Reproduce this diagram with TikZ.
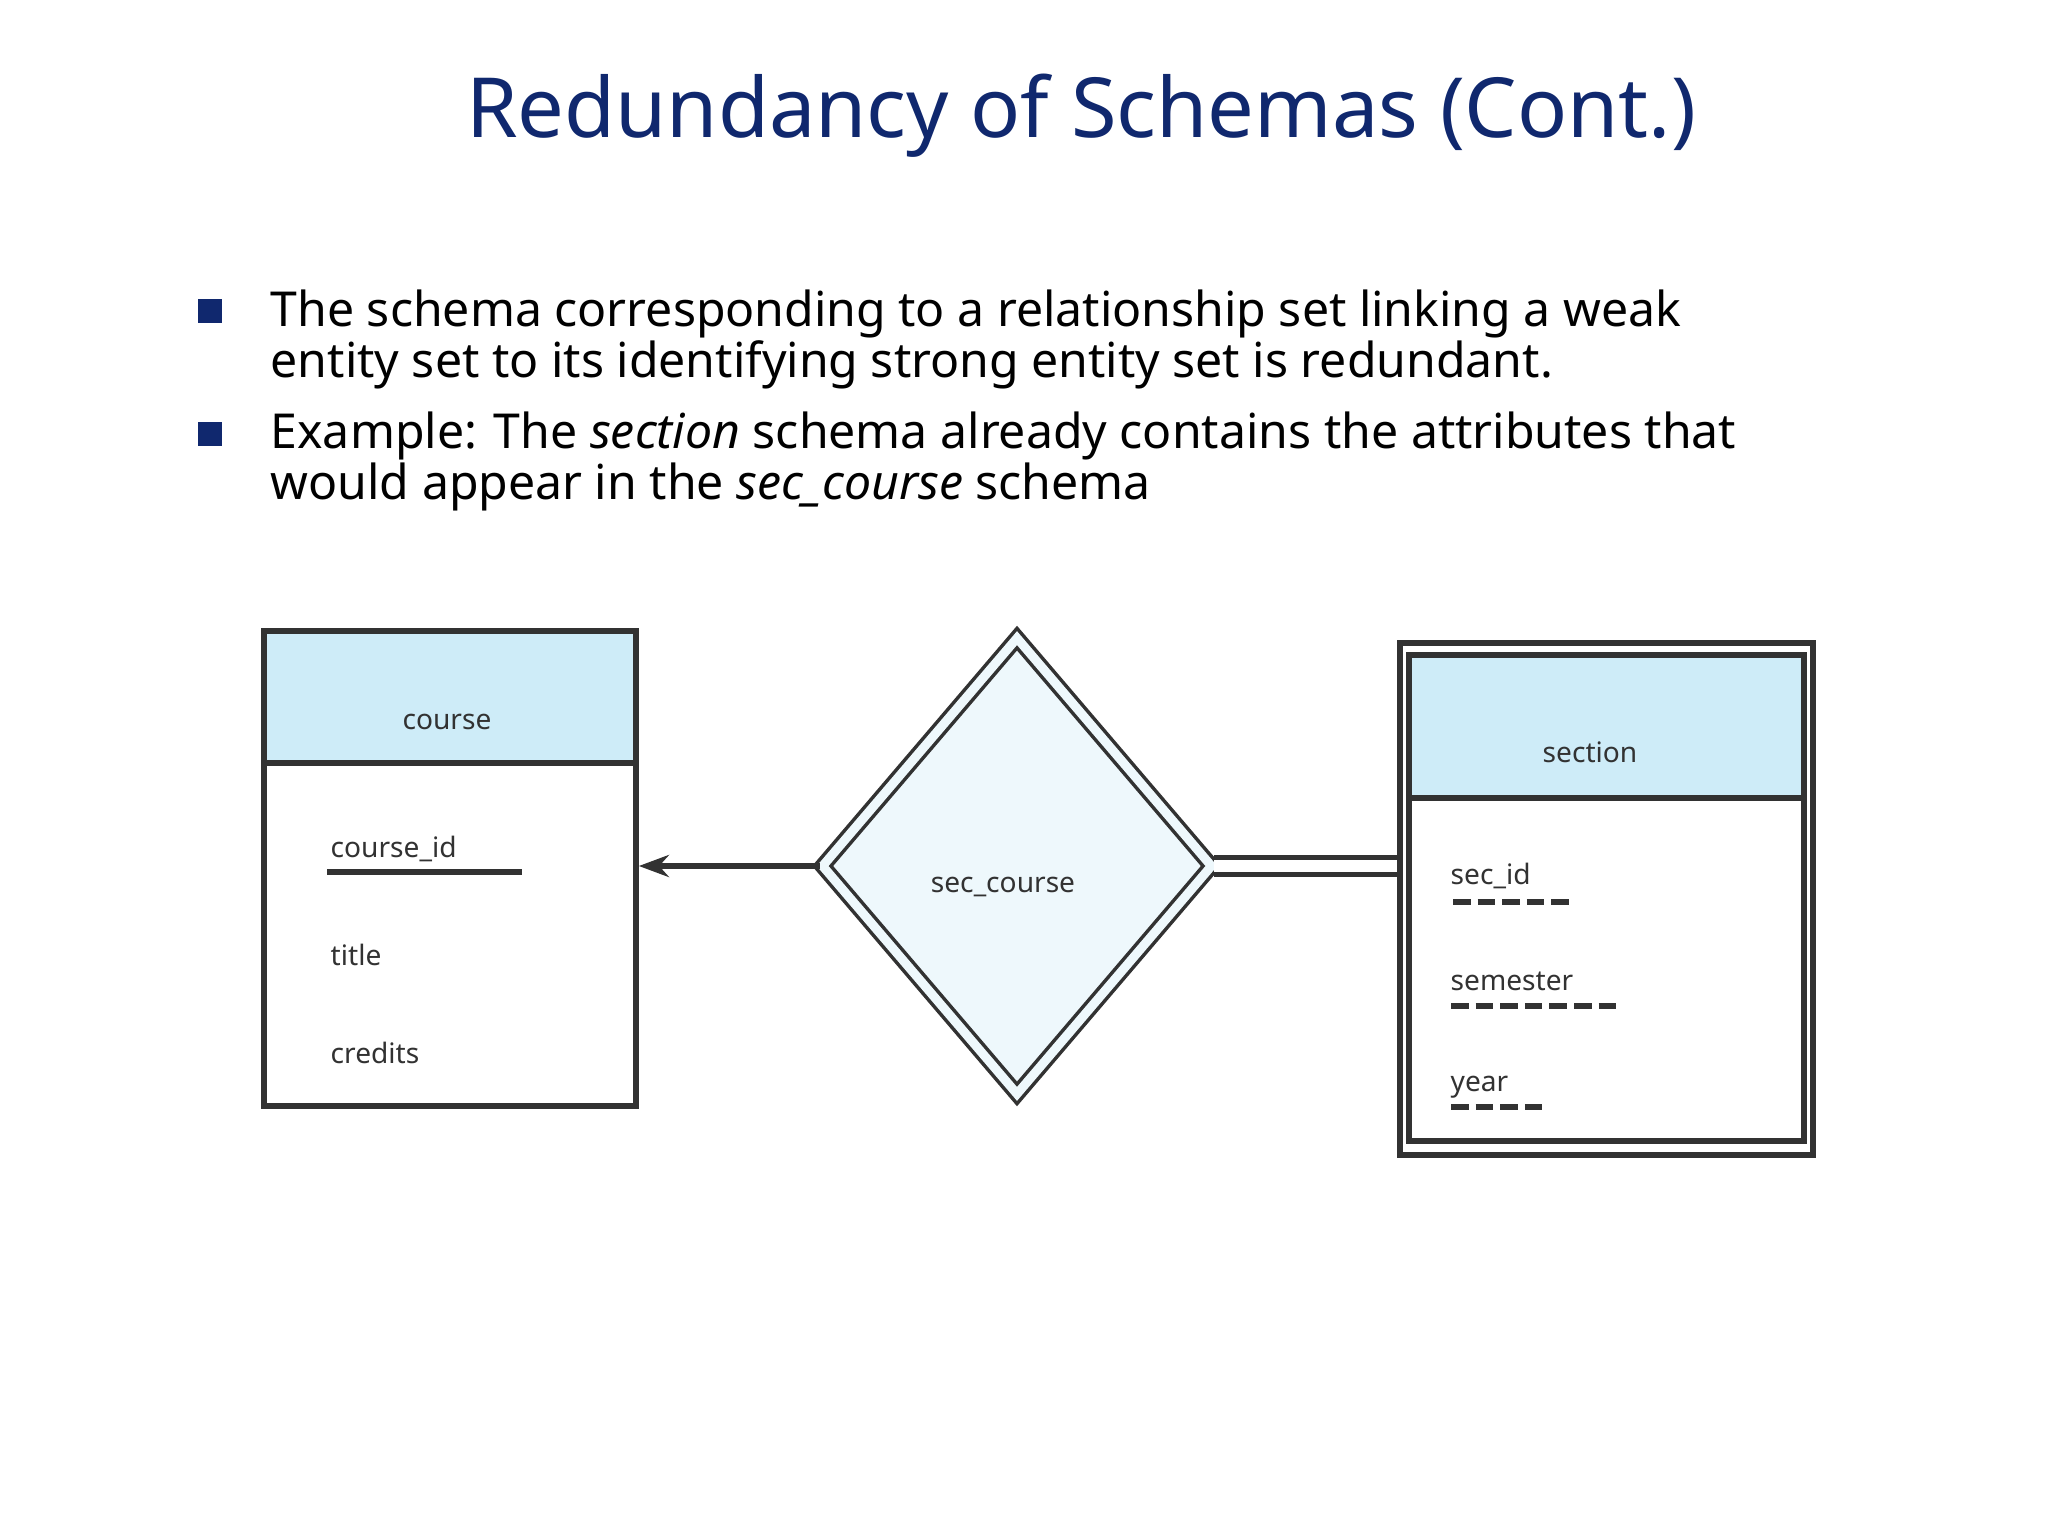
\documentclass[tikz,border=0pt]{standalone}
\usepackage{fontspec}
\setmainfont{Noto Sans}
\usetikzlibrary{shapes.geometric,arrows.meta}
\definecolor{navy}{RGB}{16,40,110}
\definecolor{hdr}{RGB}{206,236,248}
\definecolor{dfill}{RGB}{238,248,252}
\definecolor{ln}{RGB}{50,50,50}
\tikzset{
  body/.style={anchor=base west,font=\fontsize{13.7}{16}\selectfont,inner sep=0},
  bul/.style={fill=navy,minimum size=0.24cm,inner sep=0},
  attr/.style={anchor=base west,font=\fontsize{8}{9}\selectfont,text=ln,inner sep=0},
  ent/.style={draw=ln,line width=1.6pt,inner sep=0,anchor=north west},
  dsh/.style={ln,line width=1.8pt,dash pattern=on 5pt off 2pt},
}
\begin{document}
\begin{tikzpicture}[x=0.01cm,y=-0.01cm]
\useasboundingbox (0,0) rectangle (2048,1536);
\node[text=navy,font=\fontsize{23.6}{28}\selectfont] (title) at (1081,116) {Redundancy of Schemas (Cont.)};
\node[bul] (b1) at (210,311) {};
\node[bul] (b2) at (210,434) {};
\node[body] (t1) at (270,326) {The schema corresponding to a relationship set linking a weak};
\node[body] (t2) at (270,377) {entity set to its identifying strong entity set is redundant.};
\node[body] (t3) at (270,448) {Example: The \textit{section} schema already contains the attributes that};
\node[body] (t4) at (270,499) {would appear in the \textit{sec\_course} schema};
% left entity
\node[ent,fill=hdr,minimum width=3.72cm,minimum height=1.32cm] (ch) at (261,628) {};
\node[ent,fill=white,minimum width=3.72cm,minimum height=3.43cm] (cb) at (261,760) {};
\node[attr,anchor=center] (cn) at (447,722) {course};
\node[attr] (a1) at (330,857) {course\_id};
\draw[ln,line width=1.6pt] (327,872) -- (522,872);
\node[attr] (a2) at (330,965) {title};
\node[attr] (a3) at (330,1063) {credits};
% diamond
\node[diamond,draw=ln,line width=1pt,double=dfill,double distance=0.09cm,fill=dfill,minimum width=3.9cm,minimum height=4.57cm,inner sep=0,aspect=0.856] (rel) at (1017,866) {};
\node[attr,anchor=center] (rn) at (1003,887) {sec\_course};
% right entity
\node[ent,minimum width=4.13cm,minimum height=5.12cm] (so) at (1397,640) {};
\node[ent,fill=hdr,minimum width=3.95cm,minimum height=1.43cm] (sh) at (1406,652) {};
\node[ent,fill=white,minimum width=3.95cm,minimum height=3.43cm] (sb) at (1406,795) {};
\node[attr,anchor=center] (sn) at (1590,752) {section};
\node[attr] (s1) at (1450,884) {sec\_id};
\draw[dsh] (1453,902) -- (1572,902);
\node[attr] (s2) at (1450,990) {semester};
\draw[dsh] (1451,1006) -- (1616,1006);
\node[attr] (s3) at (1450,1091) {year};
\draw[dsh] (1451,1107) -- (1542,1107);
% connectors
\draw[ln,line width=1.6pt,-{Stealth[length=0.3cm,width=0.22cm]}] (rel.west) -- (cb.north east |- rel.west);
\draw[ln,line width=1.4pt,double=white,double distance=0.12cm] (rel.east) -- (so.west |- rel.east);
\end{tikzpicture}
\end{document}
